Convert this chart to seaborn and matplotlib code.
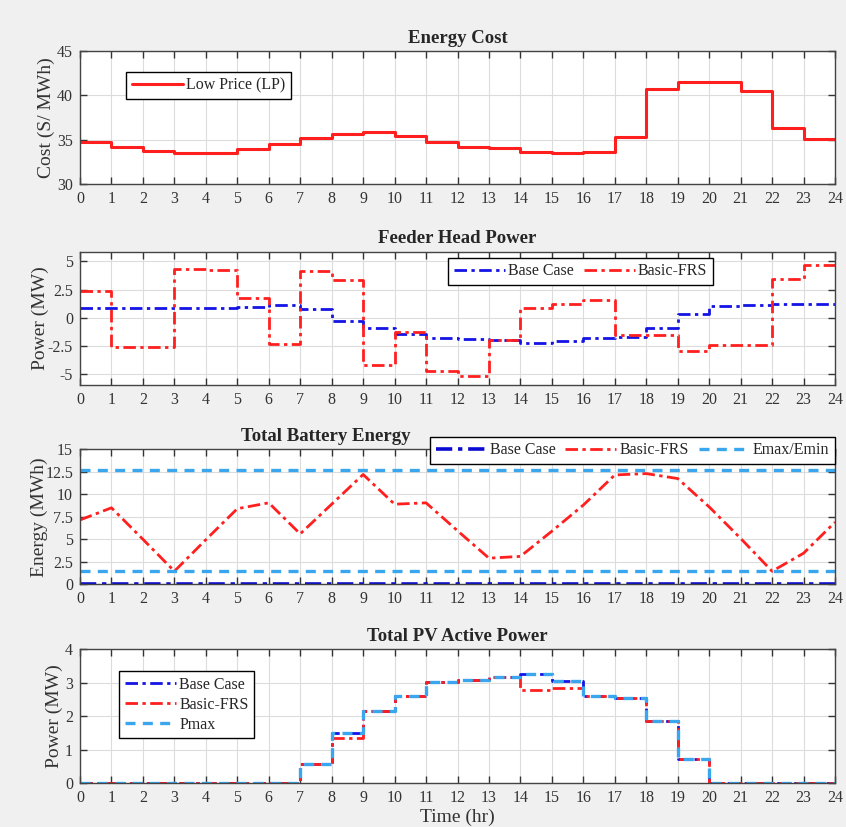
import numpy as np
import matplotlib
matplotlib.use("Agg")
import matplotlib.pyplot as plt
import seaborn as sns

# hourly data, 0..23 (step values)
hours = np.arange(25)
price_lp = [34.75, 34.2, 33.7, 33.45, 33.55, 33.9, 34.5, 35.15, 35.65, 35.85, 35.45, 34.75,
            34.2, 34.05, 33.65, 33.5, 33.65, 35.3, 40.7, 41.45, 41.45, 40.5, 36.35, 35.1]

feeder_base = [0.85, 0.85, 0.85, 0.85, 0.85, 0.95, 1.15, 0.75, -0.25, -0.95, -1.4, -1.8,
               -1.9, -2.0, -2.2, -2.05, -1.75, -1.7, -0.9, 0.3, 1.0, 1.1, 1.25, 1.25]
feeder_frs = [2.4, -2.55, -2.55, 4.35, 4.2, 1.75, -2.3, 4.15, 3.35, -4.2, -1.3, -4.75,
              -5.15, -1.95, 0.9, 1.2, 1.6, -1.5, -1.55, -2.9, -2.4, -2.4, 3.4, 4.7]

# battery energy at each hour mark 0..24
battery_base = [0.0] * 25
battery_frs = [7.15, 8.5, 5.0, 1.45, 4.95, 8.4, 9.05, 5.6, 8.9, 12.2, 8.9, 9.05, 5.95,
               2.9, 3.1, 5.9, 8.8, 12.15, 12.3, 11.75, 8.6, 5.1, 1.45, 3.45, 6.9]
e_max = 12.7
e_min = 1.45

pv_base = [0, 0, 0, 0, 0, 0, 0, 0.57, 1.5, 2.17, 2.6, 3.03,
           3.1, 3.16, 3.25, 3.05, 2.6, 2.56, 1.87, 0.72, 0, 0, 0, 0]
pv_frs = [0, 0, 0, 0, 0, 0, 0, 0.57, 1.35, 2.17, 2.6, 3.03,
          3.1, 3.16, 2.8, 2.85, 2.6, 2.56, 1.87, 0.72, 0, 0, 0, 0]
pv_max = [0, 0, 0, 0, 0, 0, 0, 0.57, 1.5, 2.17, 2.6, 3.03,
          3.1, 3.16, 3.25, 3.05, 2.6, 2.56, 1.87, 0.72, 0, 0, 0, 0]


def step(vals):
    # repeat last value so the stairs reach hour 24
    return list(vals) + [vals[-1]]


sns.set_style("ticks")
plt.rcParams["font.family"] = ["Liberation Serif", "DejaVu Serif"]

RED = "#ff1f1f"
BLUE = "#1414e6"
LBLUE = "#3aa6ee"
DASHDOT = (0, (4.5, 1.6, 1.2, 1.6))
DASHED = (0, (3.0, 2.2))

fig = plt.figure(figsize=(8.46, 8.27), dpi=100, facecolor="#f0f0f0")
left, width = 80 / 846, 755 / 846
ax1 = fig.add_axes([left, 0.7775, width, 0.1608])
ax2 = fig.add_axes([left, 0.5345, width, 0.1612])
ax3 = fig.add_axes([left, 0.2935, width, 0.1632])
ax4 = fig.add_axes([left, 0.0528, width, 0.1620])


def style_axis(ax, ylim, yticks, yticklabels=None):
    ax.set_facecolor("white")
    ax.set_xlim(0, 24)
    ax.set_ylim(*ylim)
    ax.set_xticks(range(25))
    ax.set_yticks(yticks)
    if yticklabels is not None:
        ax.set_yticklabels(yticklabels)
    ax.grid(True, color="#dcdcdc", linewidth=0.8)
    ax.set_axisbelow(True)
    ax.tick_params(direction="in", length=5, width=1, top=True, right=True,
                   labelsize=11.5, color="#333333", labelcolor="#333333", pad=5)
    for s in ax.spines.values():
        s.set_color("#444444")
        s.set_linewidth(1.0)
    ax.set_xlabel("")


def legend(ax, **kw):
    leg = ax.legend(frameon=True, fancybox=False, framealpha=1, edgecolor="black",
                    fontsize=11.5, handlelength=3.2, borderpad=0.35, labelspacing=0.25,
                    handletextpad=0.2, borderaxespad=0, **kw)
    leg.get_frame().set_linewidth(1.0)
    return leg


# --- Energy cost
sns.lineplot(x=hours, y=step(price_lp), ax=ax1, color=RED, linewidth=2.2,
             drawstyle="steps-post", label="Low Price (LP)")
style_axis(ax1, (30, 45), [30, 35, 40, 45])
ax1.set_title("Energy Cost", fontsize=13.5, fontweight="bold", pad=6)
ax1.set_ylabel("Cost (S/ MWh)", fontsize=14, color="#333333")
legend(ax1, loc="upper left", bbox_to_anchor=(0.061, 0.842))

# --- Feeder head power
sns.lineplot(x=hours, y=step(feeder_base), ax=ax2, color=BLUE, linewidth=2.0,
             drawstyle="steps-post", linestyle=DASHDOT, label="Base Case")
sns.lineplot(x=hours, y=step(feeder_frs), ax=ax2, color=RED, linewidth=2.0,
             drawstyle="steps-post", linestyle=DASHDOT, label="Basic-FRS")
style_axis(ax2, (-5.95, 5.85), [-5, -2.5, 0, 2.5, 5], ["-5", "-2.5", "0", "2.5", "5"])
ax2.set_title("Feeder Head Power", fontsize=13.5, fontweight="bold", pad=6)
ax2.set_ylabel("Power (MW)", fontsize=14, color="#333333")
legend(ax2, loc="upper left", bbox_to_anchor=(0.488, 0.955), ncol=2, columnspacing=0.6)

# --- Total battery energy
sns.lineplot(x=hours, y=battery_base, ax=ax3, color="#0a0ad0", linewidth=2.6,
             linestyle=DASHDOT, label="Base Case")
sns.lineplot(x=hours, y=battery_frs, ax=ax3, color=RED, linewidth=2.0,
             linestyle=DASHDOT, label="Basic-FRS")
ax3.axhline(e_max, color=LBLUE, linewidth=2.4, linestyle=DASHED, label="Emax/Emin")
ax3.axhline(e_min, color=LBLUE, linewidth=2.4, linestyle=DASHED)
style_axis(ax3, (0, 15), [0, 2.5, 5, 7.5, 10, 12.5, 15],
           ["0", "2.5", "5", "7.5", "10", "12.5", "15"])
ax3.set_title("Total Battery Energy", fontsize=13.5, fontweight="bold", pad=6, x=0.325)
ax3.set_ylabel("Energy (MWh)", fontsize=14, color="#333333")
legend(ax3, loc="upper right", bbox_to_anchor=(1.0, 1.093), ncol=3, columnspacing=0.6)

# --- Total PV active power
sns.lineplot(x=hours, y=step(pv_base), ax=ax4, color=BLUE, linewidth=2.0,
             drawstyle="steps-post", linestyle=DASHDOT, label="Base Case")
sns.lineplot(x=hours, y=step(pv_frs), ax=ax4, color=RED, linewidth=2.0,
             drawstyle="steps-post", linestyle=DASHDOT, label="Basic-FRS")
sns.lineplot(x=hours, y=step(pv_max), ax=ax4, color=LBLUE, linewidth=2.4,
             drawstyle="steps-post", linestyle=DASHED, label="Pmax")
style_axis(ax4, (0, 4), [0, 1, 2, 3, 4])
ax4.set_title("Total PV Active Power", fontsize=13.5, fontweight="bold", pad=6)
ax4.set_ylabel("Power (MW)", fontsize=14, color="#333333")
ax4.set_xlabel("Time (hr)", fontsize=14, color="#333333", labelpad=2)
legend(ax4, loc="upper left", bbox_to_anchor=(0.052, 0.837))

# y-label offsets follow tick label widths, as in the original
for ax, xoff in ((ax1, -0.0325), (ax2, -0.0417), (ax3, -0.043), (ax4, -0.022)):
    ax.yaxis.set_label_coords(xoff, 0.5)

fig.savefig("out.png", dpi=100, facecolor=fig.get_facecolor())
